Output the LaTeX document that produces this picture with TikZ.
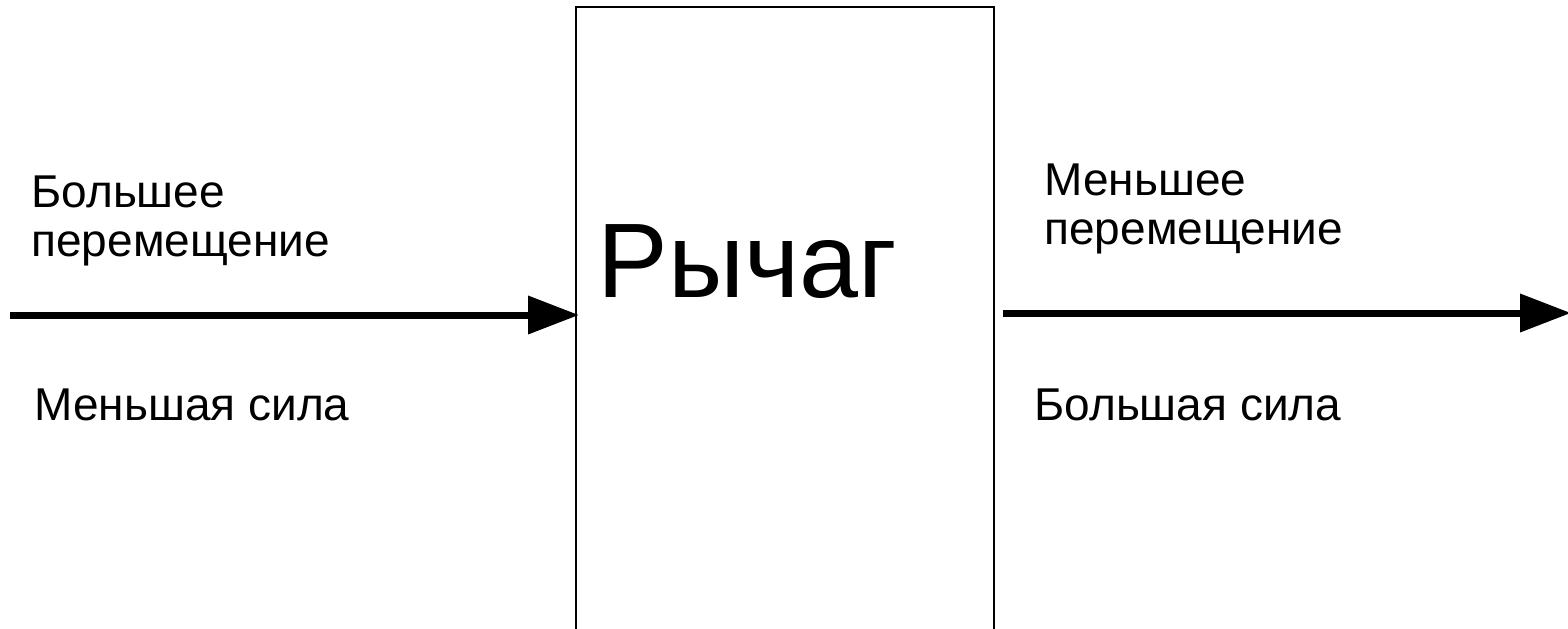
\documentclass[tikz,border=0pt]{standalone}
\usepackage{fontspec}
\setmainfont{Liberation Sans}
\usetikzlibrary{positioning, arrows.meta}
\tikzstyle{arrow} = [line width=3.5pt,-{Triangle[length=25.5pt,width=18.5pt]}]
\tikzstyle{label} = [anchor=base west, inner sep=0pt, align=left, font=\fontsize{23}{24.5}\selectfont]

\begin{document}
\begin{tikzpicture}[x=0.5pt, y=-0.5pt]
  \useasboundingbox (0,0) rectangle (1568,628);

  % Lever box (open at the bottom)
  \node[draw, line width=1pt, minimum width=209pt, minimum height=346pt, inner sep=0pt] (lever) at (785,353) {};
  \node[anchor=base west, inner sep=0pt, font=\fontsize{53}{60}\selectfont] (title) at (597,297) {Рычаг};

  % Input side
  \coordinate (inL) at (10,315);
  \draw[arrow] (inL) -- ([xshift=2pt]lever.west |- inL);
  \node[label] (bigmove) at (31,256) {Большее\\перемещение};
  \node[label] (smallforce) at (34,420) {Меньшая сила};

  % Output side
  \coordinate (outR) at (1003,313);
  \coordinate (outEnd) at (1571,313);
  \draw[arrow] (outR) -- (outEnd);
  \node[label] (smallmove) at (1044,244) {Меньшее\\перемещение};
  \node[label] (bigforce) at (1034,420) {Большая сила};
\end{tikzpicture}
\end{document}
